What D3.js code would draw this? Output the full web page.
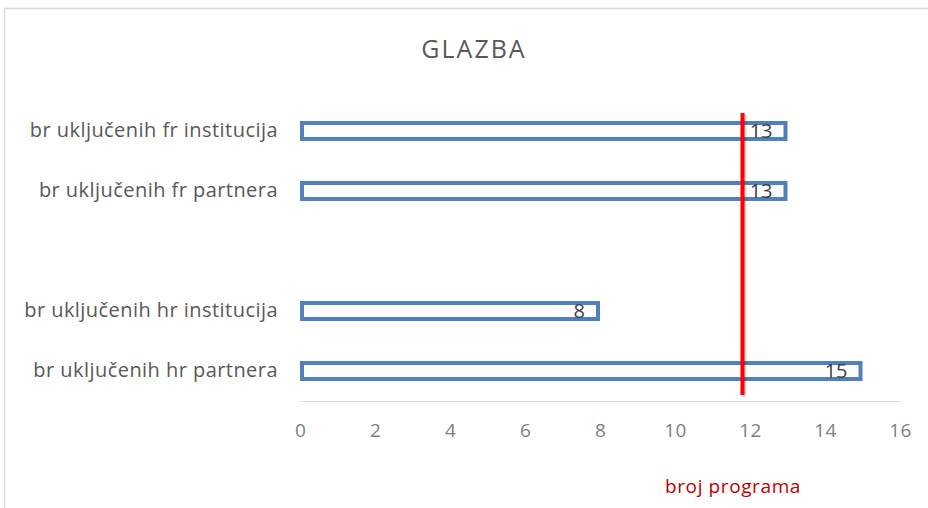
<!DOCTYPE html>
<html><head><meta charset="utf-8">
<script src="https://cdn.jsdelivr.net/npm/d3@7"></script>
<style>body{margin:0;background:#fff}svg{display:block}</style>
</head><body><svg id="c" width="928" height="508"></svg>
<script>
const title = "GLAZBA";
const categories = ["br uključenih fr institucija","br uključenih fr partnera","","br uključenih hr institucija","br uključenih hr partnera"];
const values = [13, 13, null, 8, 15];
const xTicks = [0,2,4,6,8,10,12,14,16];
const refValue = 11.8;
const refLabel = "broj programa";

const svg = d3.select("#c");
const font = "'Open Sans', sans-serif";
const m = {left:300, right:28, top:101, bottom:107};
const W = 928, H = 508;
const x = d3.scaleLinear().domain([0,16]).range([m.left, W-m.right]);
const y = d3.scaleBand().domain(categories).range([m.top, H-m.bottom]).paddingInner(0.667).paddingOuter(0.333);

// frame
svg.append("rect").attr("x",4.5).attr("y",8.5).attr("width",W+10).attr("height",H+10)
  .attr("fill","none").attr("stroke","#d9d9d9").attr("stroke-width",1.5);

svg.append("text").attr("x",474).attr("y",58).attr("text-anchor","middle")
  .attr("font-family",font).attr("font-size",25).attr("letter-spacing",2).attr("fill","#595959").text(title);

// axis
const xAxis = svg.append("g").attr("transform",`translate(0,${H-m.bottom})`)
  .call(d3.axisBottom(x).tickValues(xTicks).tickSize(0).tickPadding(23));
xAxis.select(".domain").attr("stroke","#d9d9d9");
xAxis.selectAll("text").attr("font-family",font).attr("font-size",19).attr("letter-spacing",0.4).attr("fill","#808080");

const yAxis = svg.append("g").attr("transform",`translate(${m.left-22},0)`)
  .call(d3.axisLeft(y).tickSize(0).tickPadding(0));
yAxis.select(".domain").remove();
yAxis.selectAll("text").attr("font-family",font).attr("font-size",20).attr("letter-spacing",0.45).attr("fill","#595959");

const data = categories.map((c,i)=>({c, v: values[i]})).filter(d=>d.v!=null);
svg.selectAll("rect.bar").data(data).join("rect").attr("class","bar")
  .attr("x", x(0)+2).attr("y", d=>y(d.c)+2)
  .attr("width", d=>x(d.v)-x(0)-4).attr("height", y.bandwidth()-4)
  .attr("fill","#fff").attr("stroke","#4f81bd").attr("stroke-width",4);

// ref line
const defs = svg.append("defs");
const f = defs.append("filter").attr("id","sh").attr("filterUnits","userSpaceOnUse")
  .attr("x",0).attr("y",0).attr("width",W).attr("height",H);
f.append("feDropShadow").attr("dx",1).attr("dy",1).attr("stdDeviation",1).attr("flood-color","#000").attr("flood-opacity",0.3);
svg.append("line").attr("x1",x(refValue)).attr("x2",x(refValue)).attr("y1",113).attr("y2",395)
  .attr("stroke","#ff0000").attr("stroke-width",4).attr("filter","url(#sh)");

svg.selectAll("text.val").data(data).join("text").attr("class","val")
  .attr("x", d=>x(d.v)-15).attr("y", d=>y(d.c)+y.bandwidth()/2+7)
  .attr("text-anchor","end").attr("font-family",font).attr("font-size",20).attr("fill","#404040")
  .text(d=>d.v);

svg.append("text").attr("x",733).attr("y",493).attr("text-anchor","middle")
  .attr("font-family",font).attr("font-size",19).attr("letter-spacing",0.6).attr("fill","#c00000").text(refLabel);
</script></body></html>
